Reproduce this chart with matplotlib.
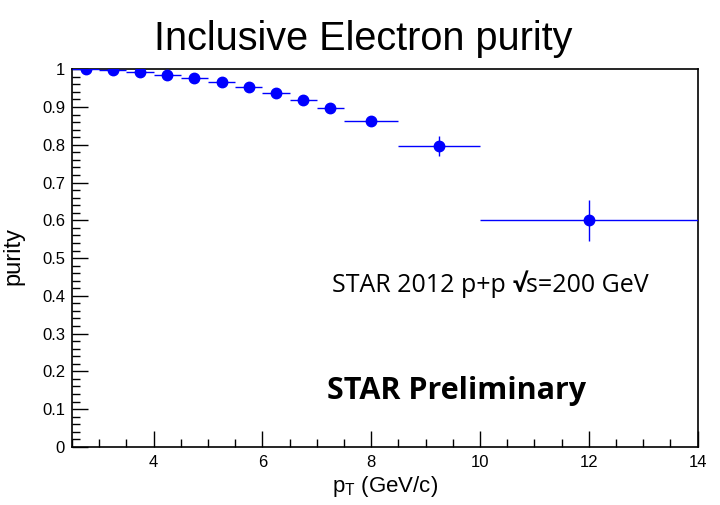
import matplotlib
matplotlib.use("Agg")
import matplotlib.pyplot as plt
from matplotlib.ticker import MultipleLocator

pt_center = [2.75, 3.25, 3.75, 4.25, 4.75, 5.25, 5.75, 6.25, 6.75, 7.25, 8.0, 9.25, 12.0]
pt_halfwidth = [0.25, 0.25, 0.25, 0.25, 0.25, 0.25, 0.25, 0.25, 0.25, 0.25, 0.5, 0.75, 2.0]
purity = [1.0, 0.997, 0.993, 0.984, 0.977, 0.965, 0.952, 0.936, 0.919, 0.897, 0.863, 0.797, 0.600]
purity_err = [0.002, 0.002, 0.002, 0.002, 0.002, 0.002, 0.002, 0.002, 0.003, 0.004, 0.010, 0.026, 0.054]

x_ticks = [4, 6, 8, 10, 12, 14]
y_ticks = [0, 0.1, 0.2, 0.3, 0.4, 0.5, 0.6, 0.7, 0.8, 0.9, 1.0]
y_tick_labels = ['0', '0.1', '0.2', '0.3', '0.4', '0.5', '0.6', '0.7', '0.8', '0.9', '1']

plt.rcParams['font.family'] = ['Liberation Sans', 'DejaVu Sans']

fig = plt.figure(figsize=(7.2, 5.05), dpi=100)
ax = fig.add_axes([0.1, 0.115, 0.869, 0.748])

ax.errorbar(pt_center, purity, xerr=pt_halfwidth, yerr=purity_err, fmt='o',
            color='#0000ff', ecolor='#0000ff', elinewidth=1.0, markersize=7.5,
            capsize=0, zorder=3)

ax.set_xlim(2.5, 14)
ax.set_ylim(0, 1)
ax.xaxis.set_minor_locator(MultipleLocator(0.5))
ax.yaxis.set_minor_locator(MultipleLocator(0.02))
ax.set_xticks(x_ticks)
ax.set_yticks(y_ticks)
ax.set_yticklabels(y_tick_labels)
ax.tick_params(which='both', direction='in', top=False, right=False, labelsize=12,
               width=1, color='black')
ax.tick_params(which='major', length=11.5)
ax.tick_params(which='minor', length=5.5)
ax.tick_params(axis='y', pad=5)
ax.tick_params(axis='x', pad=6)
for sp in ax.spines.values():
    sp.set_linewidth(1.2)
    sp.set_color('black')

ax.set_xlabel(r'p$_{\mathregular{T}}$ (GeV/c)', fontsize=16, labelpad=3)
ax.set_ylabel('purity', fontsize=17)
ax.yaxis.set_label_coords(-0.076, 0.505)

fig.text(0.505, 0.922, 'Inclusive Electron purity', ha='center', va='center', fontsize=28.5)

fam = ['Open Sans', 'DejaVu Sans']
t1 = ax.text(7.28, 0.4286, 'STAR 2012 p+p ', ha='left', va='center', fontsize=18, family=fam)
t2 = ax.annotate('\u221A', xy=(1, 0), xycoords=t1, ha='left', va='bottom', fontsize=18,
                 fontweight='bold', family=fam)
t3 = ax.annotate('s=200 GeV', xy=(1, 0), xycoords=t2, ha='left', va='bottom', fontsize=18,
                 family=fam)
ax.text(9.57, 0.148, 'STAR Preliminary', ha='center', va='center', fontsize=22,
        fontweight='bold', family=fam)

fig.savefig('out.png', dpi=100)
